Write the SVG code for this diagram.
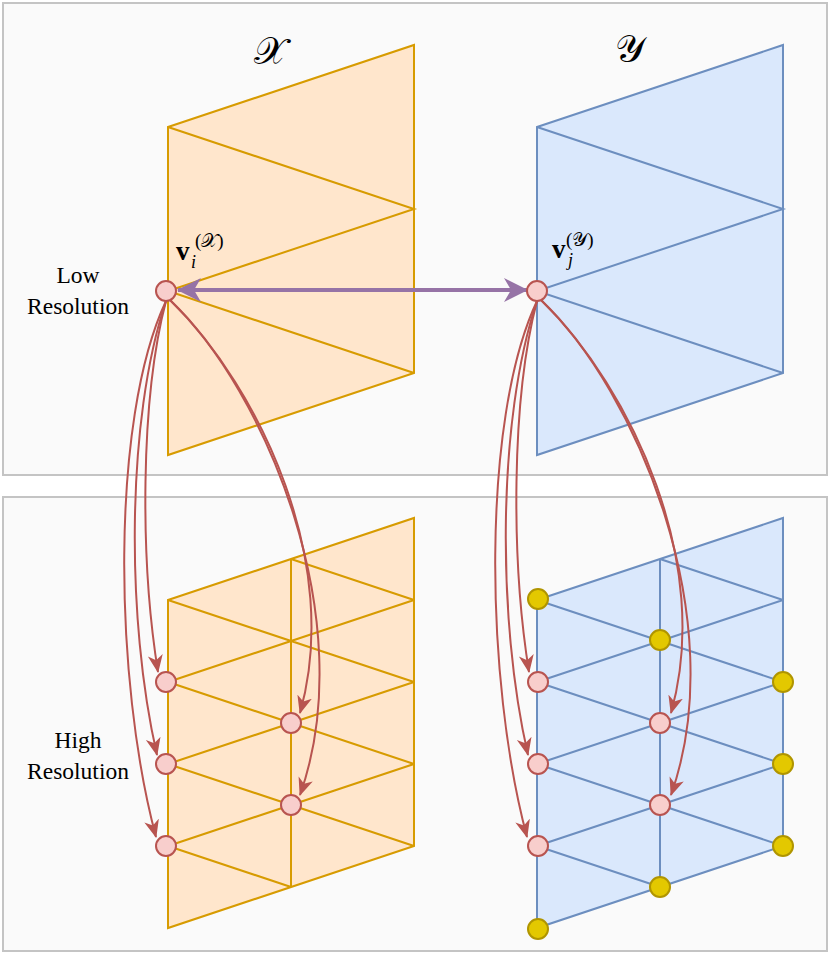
<svg xmlns="http://www.w3.org/2000/svg" width="830" height="959" viewBox="0 0 830 959">
<defs>
<style>
.panel{fill:#fafafa;stroke:#c4c4c4;stroke-width:2}
.om{fill:#ffe6cc;stroke:#d79b00;stroke-width:2;stroke-linejoin:miter}
.ol{fill:none;stroke:#d79b00;stroke-width:2}
.bm{fill:#dae8fc;stroke:#6c8ebf;stroke-width:2}
.bl{fill:none;stroke:#6c8ebf;stroke-width:2}
.pn{fill:#f8cecc;stroke:#b85450;stroke-width:2}
.yn{fill:#e3c800;stroke:#b09500;stroke-width:2}
.cv{fill:none;stroke:#b85450;stroke-width:2;marker-end:url(#ah)}
.lbl{font-family:'Liberation Serif',serif;font-size:23.5px;fill:#000;text-anchor:middle}
.math{font-family:'Liberation Serif',serif;fill:#000}
.cal{font-family:'DejaVu Sans','Noto Sans',serif;fill:#000}
</style>
<marker id="ah" markerUnits="userSpaceOnUse" viewBox="0 0 18 16" markerWidth="18" markerHeight="16" refX="17" refY="8" orient="auto">
<path d="M0,0.5 L18,8 L0,15.5 L5,8 z" fill="#b85450"/>
</marker>
<marker id="pa" markerUnits="userSpaceOnUse" viewBox="0 0 24 24" markerWidth="24" markerHeight="24" refX="23" refY="12" orient="auto-start-reverse">
<path d="M0,0 L24,12 L0,24 L7,12 z" fill="#9673a6"/>
</marker>
</defs>

<g id="panel-low"><rect class="panel" x="3" y="3" width="824" height="472"/></g>
<g id="panel-high"><rect class="panel" x="3" y="497" width="824" height="454"/></g>

<g id="mesh-x-low">
<polygon class="om" points="168,127 414,45 414,373 168,455"/>
<polyline class="ol" points="168,127 414,209 168,291 414,373"/>
</g>
<g id="mesh-y-low">
<polygon class="bm" points="537,127 783,45 783,373 537,455"/>
<polyline class="bl" points="537,127 783,209 537,291 783,373"/>
</g>

<g id="mesh-x-high">
<polygon class="om" points="168,600 414,518 414,846 168,928"/>
<path class="ol" d="M291,559 V887 M168,682 L414,600 M168,764 L414,682 M168,846 L414,764 M168,600 L414,682 M168,682 L414,764 M168,764 L414,846 M291,559 L414,600 M168,846 L291,887"/>
</g>
<g id="mesh-y-high">
<polygon class="bm" points="537,600 783,518 783,846 537,928"/>
<path class="bl" d="M660,559 V887 M537,682 L783,600 M537,764 L783,682 M537,846 L783,764 M537,600 L783,682 M537,682 L783,764 M537,764 L783,846 M660,559 L783,600 M537,846 L660,887"/>
</g>

<g id="titles">
<text class="cal" x="270" y="64" font-size="38" text-anchor="middle">𝒳</text>
<text class="cal" x="630" y="62" font-size="38" text-anchor="middle">𝒴</text>
</g>

<g id="labels">
<text class="lbl" x="78" y="283">Low</text>
<text class="lbl" x="78" y="314">Resolution</text>
<text class="lbl" x="78" y="748">High</text>
<text class="lbl" x="78" y="779">Resolution</text>
</g>

<g id="vertex-labels">
<text class="math" x="176" y="260" font-size="27" font-weight="bold">v</text>
<text class="math" x="191" y="268" font-size="18" font-style="italic">i</text>
<text class="math" x="195" y="247" font-size="19">(<tspan class="cal">𝒳</tspan>)</text>
<text class="math" x="552" y="258" font-size="27" font-weight="bold">v</text>
<text class="math" x="568" y="266" font-size="18" font-style="italic">j</text>
<text class="math" x="566" y="246" font-size="19">(<tspan class="cal">𝒴</tspan>)</text>
</g>

<g id="connectors">
<line x1="178" y1="290" x2="527" y2="290" stroke="#9673a6" stroke-width="4" marker-start="url(#pa)" marker-end="url(#pa)"/>
<path class="cv" d="M166,301 C140,400 140,560 158,672"/>
<path class="cv" d="M166,301 C126,420 126,620 157,755"/>
<path class="cv" d="M166,301 C110,420 114,680 156,837"/>
<path class="cv" d="M170,300 C262,390 342,565 300,713"/>
<path class="cv" d="M170,300 C265,390 362,620 300,795"/>
<path class="cv" d="M537,301 C511,400 511,560 529,672"/>
<path class="cv" d="M537,301 C497,420 497,620 528,755"/>
<path class="cv" d="M537,301 C481,420 485,680 527,837"/>
<path class="cv" d="M541,300 C633,390 713,565 671,713"/>
<path class="cv" d="M541,300 C636,390 733,620 671,795"/>
</g>

<g id="nodes">
<circle id="vi" class="pn" cx="166" cy="291" r="10"/>
<circle id="vj" class="pn" cx="537" cy="291" r="10"/>
<circle class="pn" cx="166" cy="682" r="10"/>
<circle class="pn" cx="166" cy="764" r="10"/>
<circle class="pn" cx="166" cy="846" r="10"/>
<circle class="pn" cx="291" cy="723" r="10"/>
<circle class="pn" cx="291" cy="805" r="10"/>
<circle class="pn" cx="538" cy="682" r="10"/>
<circle class="pn" cx="538" cy="764" r="10"/>
<circle class="pn" cx="538" cy="846" r="10"/>
<circle class="pn" cx="660" cy="723" r="10"/>
<circle class="pn" cx="660" cy="805" r="10"/>
<circle class="yn" cx="538" cy="599" r="10"/>
<circle class="yn" cx="660" cy="640" r="10"/>
<circle class="yn" cx="783" cy="682" r="10"/>
<circle class="yn" cx="783" cy="764" r="10"/>
<circle class="yn" cx="783" cy="846" r="10"/>
<circle class="yn" cx="660" cy="887" r="10"/>
<circle class="yn" cx="538" cy="929" r="10"/>
</g>
</svg>
